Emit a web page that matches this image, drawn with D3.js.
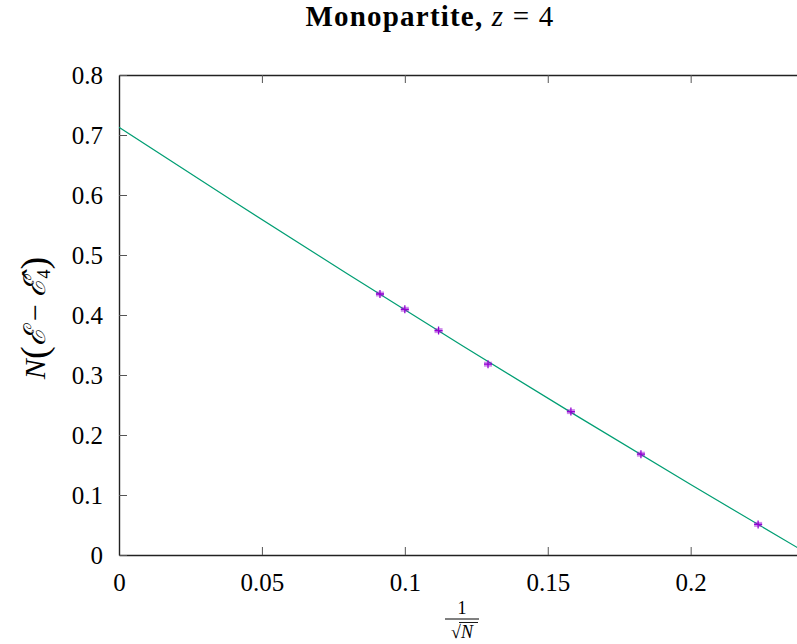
<!doctype html>
<html lang="en">
<head>
  <meta charset="utf-8">
  <title>Monopartite, z = 4</title>
  <script src="https://cdn.jsdelivr.net/npm/d3@7"></script>
  <style type="text/css">
    body {
      margin: 0;
      background-color: #ffffff;
    }
    svg text {
      font-family: "Liberation Serif", "DejaVu Serif", serif;
      fill: #000;
    }
    .axis path, .axis line {
      stroke: #222;
    }
    .axis .tick line {
      stroke: #555;
    }
  </style>
</head>
<body>
  <div id="container"></div>

<script type="text/javascript">

  // Measured points: x = 1/sqrt(N), y = N (E - E4)
  var pointX = [0.0913, 0.1000, 0.1118, 0.1291, 0.1581, 0.1826, 0.2236];
  var pointY = [0.435, 0.4095, 0.374, 0.318, 0.239, 0.168, 0.051];

  // Fit curve
  var fitX = [0, 0.04, 0.08, 0.12, 0.16, 0.20, 0.24];
  var fitY = [0.713, 0.5895, 0.4683, 0.3492, 0.2323, 0.1174, 0.0048];

  // Ticks
  var xTicks = [0, 0.05, 0.1, 0.15, 0.2];
  var xTickLabels = ["0", "0.05", "0.1", "0.15", "0.2"];
  var yTicks = [0, 0.1, 0.2, 0.3, 0.4, 0.5, 0.6, 0.7, 0.8];
  var yTickLabels = ["0", "0.1", "0.2", "0.3", "0.4", "0.5", "0.6", "0.7", "0.8"];

  // SVG dimensions and plot box
  var width = 797, height = 644;
  var plotLeft = 119, plotTop = 75, plotBottom = 555, plotRight = 805;
  var serif = "'Liberation Serif', 'DejaVu Serif', serif";

  var svg = d3.select("#container")
              .append("svg")
              .attr("width", width)
              .attr("height", height);

  var xScale = d3.scaleLinear()
    .domain([0, 0.24])
    .range([plotLeft, plotRight]);
  var yScale = d3.scaleLinear()
    .domain([0, 0.8])
    .range([plotBottom, plotTop]);

  // Axes (ticks pointing inwards, gnuplot style)
  var xAxis = d3.axisBottom(xScale)
    .tickValues(xTicks)
    .tickFormat(function(d, i) { return xTickLabels[i]; })
    .tickSizeInner(-8)
    .tickSizeOuter(0)
    .tickPadding(18);
  var gx = svg.append("g")
    .attr("class", "axis")
    .attr("transform", "translate(0," + plotBottom + ")")
    .call(xAxis);
  gx.attr("font-family", serif);
  gx.selectAll("text").style("font-family", serif).style("font-size", "25px");

  var xAxisTop = d3.axisTop(xScale)
    .tickValues(xTicks)
    .tickFormat("")
    .tickSizeInner(-8)
    .tickSizeOuter(0);
  svg.append("g")
    .attr("class", "axis")
    .attr("transform", "translate(0," + plotTop + ")")
    .call(xAxisTop);

  var yAxis = d3.axisLeft(yScale)
    .tickValues(yTicks)
    .tickFormat(function(d, i) { return yTickLabels[i]; })
    .tickSizeInner(-8)
    .tickSizeOuter(0)
    .tickPadding(16);
  var gy = svg.append("g")
    .attr("class", "axis")
    .attr("transform", "translate(" + plotLeft + ",0)")
    .call(yAxis);
  gy.attr("font-family", serif);
  gy.selectAll("text").style("font-family", serif).style("font-size", "25px");

  svg.selectAll(".axis path").attr("stroke-width", 1.4);

  // Clip to plot area
  svg.append("clipPath")
    .attr("id", "plot")
    .append("rect")
    .attr("x", plotLeft)
    .attr("y", plotTop)
    .attr("width", plotRight - plotLeft)
    .attr("height", plotBottom - plotTop);

  // Fit curve
  var fit = fitX.map(function(x, i) { return {x: x, y: fitY[i]}; });
  var line = d3.line()
    .x(function(d) { return xScale(d.x); })
    .y(function(d) { return yScale(d.y); })
    .curve(d3.curveMonotoneX);
  svg.append("path")
    .datum(fit)
    .attr("clip-path", "url(#plot)")
    .attr("fill", "none")
    .attr("stroke", "#009e73")
    .attr("stroke-width", 1.2)
    .attr("d", line);

  // Data points
  var points = pointX.map(function(x, i) { return {x: x, y: pointY[i]}; });
  var marks = svg.selectAll(".pt")
    .data(points)
    .enter()
    .append("g")
    .attr("class", "pt")
    .attr("transform", function(d) { return "translate(" + xScale(d.x) + "," + yScale(d.y) + ")"; });
  marks.append("rect")
    .attr("x", -4).attr("y", -2.5)
    .attr("width", 8).attr("height", 5)
    .attr("fill", "#9400d3")
    .attr("opacity", 0.45);
  marks.append("path")
    .attr("d", "M-4,0H4M0,-4V4")
    .attr("stroke", "#9400d3")
    .attr("stroke-width", 1.3);

  // Title
  var title = svg.append("text")
    .attr("x", 430)
    .attr("y", 26)
    .attr("text-anchor", "middle")
    .style("font-size", "29px")
    .style("letter-spacing", "1.2px");
  title.append("tspan").style("font-weight", "bold").text("Monopartite,");
  title.append("tspan").text(" ");
  title.append("tspan").style("font-style", "italic").text("z");
  title.append("tspan").text(" = 4");

  // X label: 1 / sqrt(N)
  svg.append("text")
    .attr("x", 462)
    .attr("y", 614)
    .attr("text-anchor", "middle")
    .style("font-size", "18px")
    .text("1");
  svg.append("line")
    .attr("x1", 445).attr("x2", 479)
    .attr("y1", 619).attr("y2", 619)
    .attr("stroke", "#000")
    .attr("stroke-width", 1);
  var xl = svg.append("text")
    .attr("x", 462)
    .attr("y", 638)
    .attr("text-anchor", "middle")
    .style("font-size", "18px");
  xl.append("tspan").text("√");
  xl.append("tspan").style("font-style", "italic").text("N");
  svg.append("line")
    .attr("x1", 459).attr("x2", 478)
    .attr("y1", 622.5).attr("y2", 622.5)
    .attr("stroke", "#000")
    .attr("stroke-width", 0.9);

  // Y label: N (E - E4)
  var yl = svg.append("text")
    .attr("transform", "translate(45,318) rotate(-90)")
    .attr("text-anchor", "middle")
    .style("font-size", "30px");
  yl.append("tspan").style("font-style", "italic").text("N");
  yl.append("tspan").style("font-size", "38px").attr("dy", 2).text("(");
  yl.append("tspan").style("font-style", "italic").attr("dy", -2).text("ℰ");
  yl.append("tspan").text(" − ");
  yl.append("tspan").style("font-style", "italic").text("ℰ̂");
  yl.append("tspan").style("font-size", "18px").attr("dy", 5).text("4");
  yl.append("tspan").style("font-size", "38px").attr("dy", -3).text(")");

</script>
</body>
</html>
